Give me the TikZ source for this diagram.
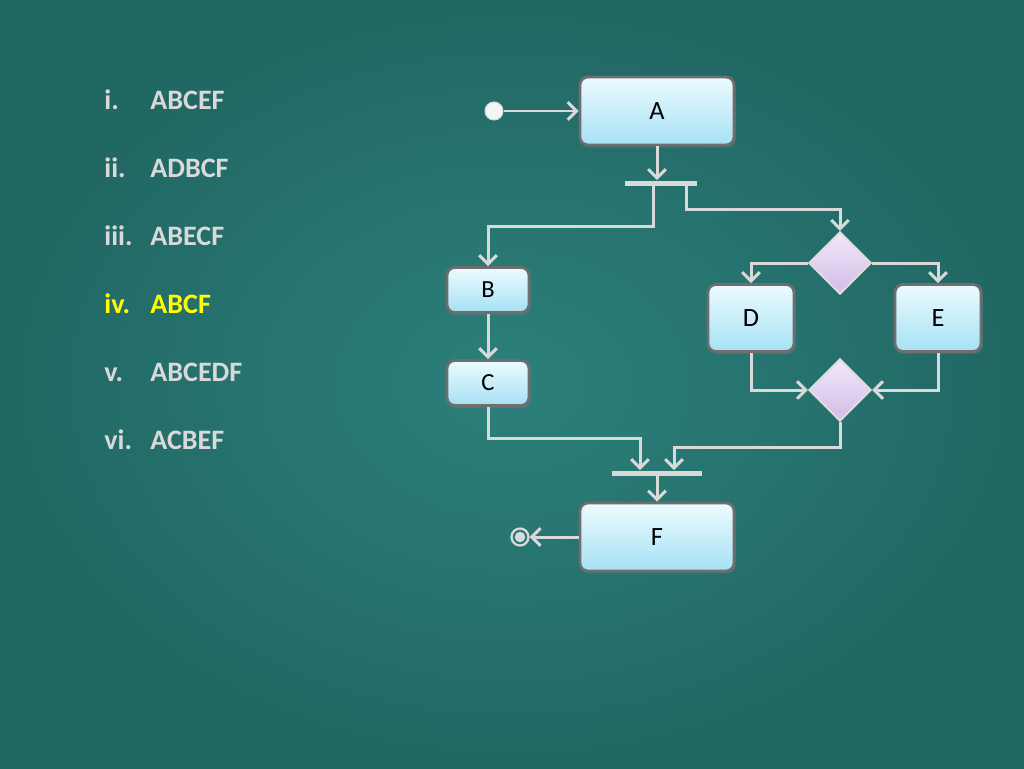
\documentclass[tikz,border=0pt]{standalone}
\usepackage{fontspec}
\setmainfont{Carlito}
\usepackage{tikz}
\usetikzlibrary{shapes.geometric, arrows.meta, positioning, calc, shadows}
\definecolor{boardteal}{RGB}{44,128,123}
\definecolor{boarddark}{RGB}{33,103,100}
\definecolor{chalk}{RGB}{217,217,217}
\definecolor{boxtop}{RGB}{236,251,254}
\definecolor{boxbottom}{RGB}{166,225,244}
\definecolor{boxedge}{RGB}{110,110,110}
\definecolor{lilactop}{RGB}{242,232,250}
\definecolor{lilacbottom}{RGB}{210,188,232}
\definecolor{answer}{RGB}{255,255,0}

\begin{document}
\begin{tikzpicture}[x=0.02cm, y=-0.02cm,
  state/.style={draw=boxedge, line width=1.6pt, rounded corners=4.5pt,
    top color=boxtop, bottom color=boxbottom, inner sep=0pt,
    font=\fontsize{15}{17}\selectfont,
    drop shadow={opacity=0.3, shadow xshift=1pt, shadow yshift=-1.5pt}},
  decision/.style={diamond, draw=chalk!90!white, line width=1.2pt, inner sep=0pt,
    minimum width=1.24cm, minimum height=1.24cm,
    top color=lilactop, bottom color=lilacbottom},
  syncbar/.style={fill=chalk, inner sep=0pt, minimum height=0.1cm},
  flow/.style={draw=chalk, line width=1.7pt, -{Straight Barb[length=5pt,width=10pt]}},
  item/.style={inner sep=0pt, anchor=base west, font=\fontsize{16}{19}\selectfont\bfseries}]

  \useasboundingbox (0,0) rectangle (1024,768);
  \shade[inner color=boardteal, outer color=boarddark] (0,0) rectangle (1024,768);

  % answer choices
  \foreach \lab/\seq/\yy/\col in {i./ABCEF/109/chalk, ii./ADBCF/177/chalk,
      iii./ABECF/245/chalk, iv./ABCF/313/answer, v./ABCEDF/381/chalk, vi./ACBEF/449/chalk} {
    \node[item, text=\col] (num\yy) at (104,\yy) {\lab};
    \node[item, text=\col] (seq\yy) at (150,\yy) {\seq};
  }

  % activity diagram
  \node[circle, fill=white!92!gray, draw=chalk, line width=0.6pt, minimum size=0.36cm, inner sep=0pt] (start) at (494,111) {};
  \node[state, minimum width=3.08cm, minimum height=1.36cm] (A) at (657,111) {A};
  \node[syncbar, minimum width=1.44cm] (fork1) at (661,183) {};
  \node[state, minimum width=1.64cm, minimum height=0.9cm, font=\fontsize{14}{16}\selectfont] (B) at (488,290) {B};
  \node[state, minimum width=1.64cm, minimum height=0.9cm, font=\fontsize{14}{16}\selectfont] (C) at (488,383) {C};
  \node[decision] (dec) at (840,263) {};
  \node[state, minimum width=1.72cm, minimum height=1.34cm] (D) at (751,318) {D};
  \node[state, minimum width=1.72cm, minimum height=1.34cm] (E) at (938,318) {E};
  \node[decision] (merge) at (840,390) {};
  \node[syncbar, minimum width=1.8cm] (join) at (657,473) {};
  \node[state, minimum width=3.08cm, minimum height=1.36cm] (F) at (657,537) {F};
  \node[circle, draw=chalk, line width=1.3pt, minimum size=0.34cm, inner sep=0pt] (stop) at (520,537) {};
  \fill[chalk] (stop) circle (3pt);

  \draw[flow] (start) -- (A);
  \draw[flow] (A.south) -- (A.south |- fork1.north);
  \draw[flow] ($(fork1.south)+(-8,0)$) -- ++(0,41) -| (B.north);
  \draw[flow] ($(fork1.south)+(25,0)$) -- ++(0,24) -| (dec.north);
  \draw[flow] (dec.west) -| (D.north);
  \draw[flow] (dec.east) -| (E.north);
  \draw[flow] (D.south) |- (merge.west);
  \draw[flow] (E.south) |- (merge.east);
  \draw[flow] (B) -- (C);
  \draw[flow] (C.south) -- ++(0,32) -| ($(join.north)+(-17,0)$);
  \draw[flow] (merge.south) -- ++(0,25) -| ($(join.north)+(17,0)$);
  \draw[flow] (join) -- (F);
  \draw[flow] (F) -- (stop);
\end{tikzpicture}
\end{document}
